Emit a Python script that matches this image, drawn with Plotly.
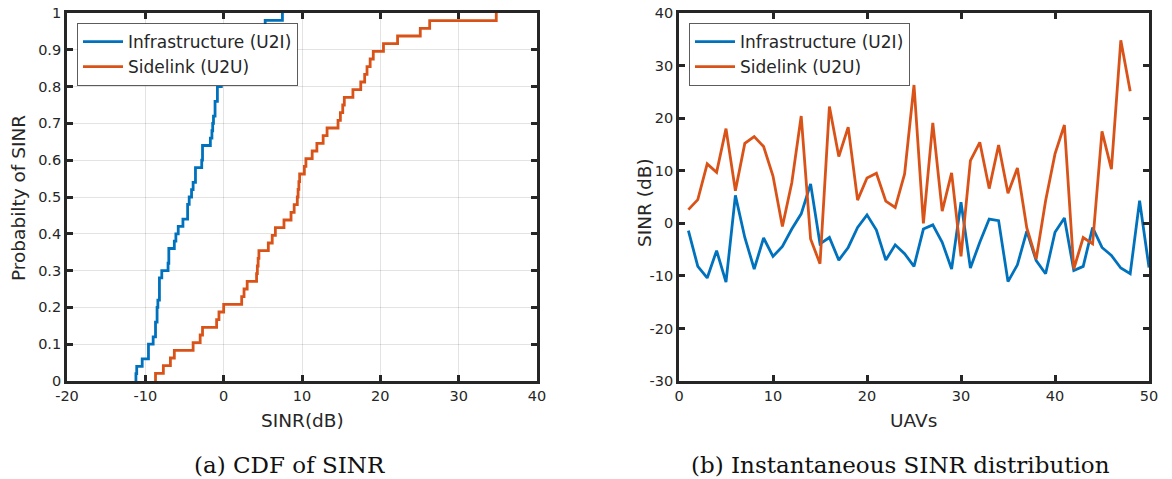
import numpy as np
import plotly.graph_objects as go

# ---------------- data ----------------
uav_u2i = list(range(1, 51))
sinr_u2i = [-1.4, -8.2, -10.4, -5.2, -11.2, 5.3, -2.7, -8.7, -2.8, -6.3,
            -4.4, -1.1, 1.8, 7.5, -3.9, -2.7, -7.0, -4.6, -0.8, 1.6,
            -1.3, -7.0, -4.1, -5.8, -8.2, -1.1, -0.3, -3.6, -8.7, 4.0,
            -8.5, -3.6, 0.8, 0.5, -11.1, -7.9, -1.5, -7.1, -9.6, -1.7,
            1.0, -9.0, -8.2, -0.8, -4.6, -6.1, -8.5, -9.6, 4.3, -8.4]

uav_u2u = list(range(1, 49))
sinr_u2u = [2.6, 4.5, 11.3, 9.7, 18.0, 6.2, 15.2, 16.5, 14.6, 9.0,
            -0.6, 7.7, 20.4, -3.0, -7.7, 22.2, 12.7, 18.3, 4.4, 8.6,
            9.5, 4.2, 3.0, 9.4, 26.3, 0.0, 19.1, 2.3, 9.6, -6.3,
            11.9, 15.4, 6.6, 14.9, 5.7, 10.5, -0.9, -6.8, 4.3, 13.2,
            18.7, -8.7, -2.7, -3.9, 17.5, 10.3, 34.8, 25.1]

names = ["Infrastructure (U2I)", "Sidelink (U2U)"]
colors = ["#0072BD", "#D95319"]

cdf_xticks = [-20, -10, 0, 10, 20, 30, 40]
cdf_xticklabels = ["-20", "-10", "0", "10", "20", "30", "40"]
cdf_yticks = [round(0.1 * i, 1) for i in range(11)]
cdf_yticklabels = ["0", "0.1", "0.2", "0.3", "0.4", "0.5", "0.6", "0.7", "0.8", "0.9", "1"]
sinr_xticks = [0, 10, 20, 30, 40, 50]
sinr_xticklabels = ["0", "10", "20", "30", "40", "50"]
sinr_yticks = [-30, -20, -10, 0, 10, 20, 30, 40]
sinr_yticklabels = ["-30", "-20", "-10", "0", "10", "20", "30", "40"]


def ecdf(vals):
    s = np.sort(np.asarray(vals, dtype=float))
    n = len(s)
    x = np.concatenate([[s[0]], s])
    y = np.concatenate([[0.0], np.arange(1, n + 1) / n])
    return x, y


# ---------------- layout helpers ----------------
W, H = 1172, 479


def px(x):
    return x / W


def py(y):
    return 1 - y / H


AXC = "#262626"
GRID = "rgba(38,38,38,0.13)"

fig = go.Figure()

for vals, name, col in zip([sinr_u2i, sinr_u2u], names, colors):
    cx, cy = ecdf(vals)
    fig.add_trace(go.Scatter(x=cx, y=cy, mode="lines", line=dict(color=col, width=2.8, shape="hv"),
                             name=name, xaxis="x", yaxis="y", legend="legend"))

fig.add_trace(go.Scatter(x=uav_u2i, y=sinr_u2i, mode="lines", line=dict(color=colors[0], width=2.8),
                         name=names[0], xaxis="x2", yaxis="y2", legend="legend2"))
fig.add_trace(go.Scatter(x=uav_u2u, y=sinr_u2u, mode="lines", line=dict(color=colors[1], width=2.8),
                         name=names[1], xaxis="x2", yaxis="y2", legend="legend2"))

tickfont = dict(family="DejaVu Sans", size=14.5, color=AXC)
common = dict(showline=True, linecolor=AXC, linewidth=2.8, mirror="ticks", ticks="inside",
              ticklen=6, tickwidth=2.5, tickcolor=AXC, zeroline=False, tickfont=tickfont,
              automargin=False, ticklabeloverflow="allow")

fig.update_layout(
    width=W, height=H, margin=dict(l=0, r=0, t=0, b=0, autoexpand=False),
    paper_bgcolor="white", plot_bgcolor="white",
    xaxis=dict(domain=[px(67), px(537)], anchor="y", range=[-20, 40], tickvals=cdf_xticks,
               ticktext=cdf_xticklabels, showgrid=True, gridcolor=GRID, gridwidth=1, **common),
    yaxis=dict(domain=[py(381), py(13)], anchor="x", range=[0, 1], tickvals=cdf_yticks,
               ticktext=cdf_yticklabels, showgrid=True, gridcolor=GRID, gridwidth=1, **common),
    xaxis2=dict(domain=[px(679), px(1149)], anchor="y2", range=[0, 50], tickvals=sinr_xticks,
                ticktext=sinr_xticklabels, showgrid=False, **common),
    yaxis2=dict(domain=[py(381), py(13)], anchor="x2", range=[-30, 40], tickvals=sinr_yticks,
                ticktext=sinr_yticklabels, showgrid=False, **common),
    legend=dict(x=px(77), y=py(23), xanchor="left", yanchor="top", bgcolor="white",
                bordercolor="rgba(38,38,38,0.75)", borderwidth=1, itemwidth=40,
                font=dict(family="DejaVu Sans", size=17, color=AXC), tracegroupgap=0),
    legend2=dict(x=px(689), y=py(23), xanchor="left", yanchor="top", bgcolor="white",
                 bordercolor="rgba(38,38,38,0.75)", borderwidth=1, itemwidth=40,
                 font=dict(family="DejaVu Sans", size=17, color=AXC), tracegroupgap=0),
    showlegend=True,
)

titlefont = dict(family="DejaVu Sans", size=18.5, color=AXC)
capfont = dict(family="DejaVu Serif", size=23, color="#111111")
annots = [
    dict(text="SINR(dB)", x=px(302), y=py(420), font=titlefont),
    dict(text="UAVs", x=px(914), y=py(420), font=titlefont),
    dict(text="Probabilty of SINR", x=px(18), y=py(198), textangle=-90, font=titlefont),
    dict(text="SINR (dB)", x=px(645), y=py(203), textangle=-90, font=titlefont),
    dict(text="(a) CDF of SINR", x=px(289), y=py(465), font=capfont),
    dict(text="(b) Instantaneous SINR distribution", x=px(901), y=py(465), font=capfont),
]
for a in annots:
    fig.add_annotation(xref="paper", yref="paper", xanchor="center", yanchor="middle",
                       showarrow=False, **a)

# remove the default 8px page margin so the figure fills the window exactly
fig.write_html("out.html", config={"displayModeBar": False},
               post_script="document.body.style.margin='0';document.body.style.overflow='hidden';")
